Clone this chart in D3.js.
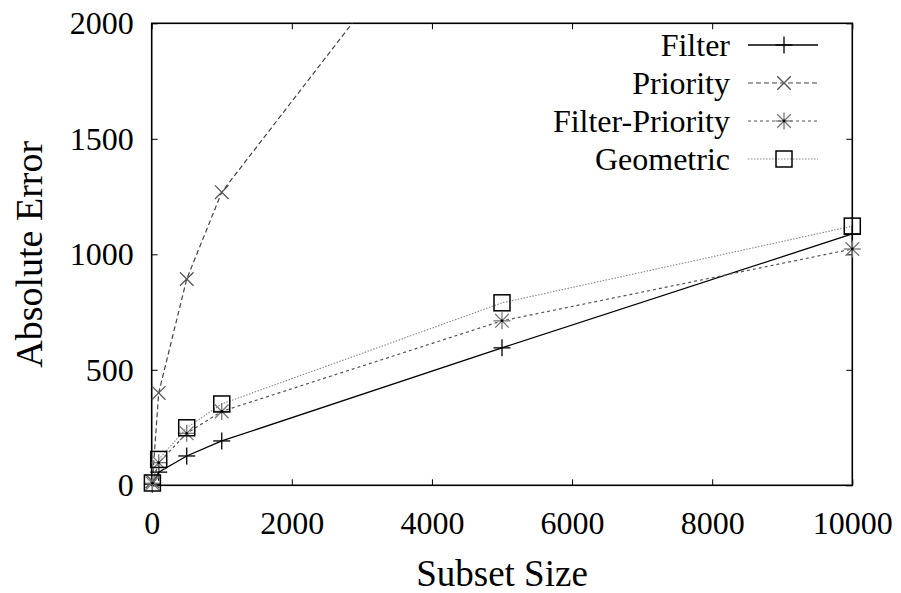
<!DOCTYPE html>
<html>
<head>
<meta charset="utf-8">
<script src="https://cdn.jsdelivr.net/npm/d3@7/dist/d3.min.js"></script>
<style>
  html, body { margin: 0; padding: 0; background: #fff; }
  svg { display: block; }
</style>
</head>
<body>
<svg id="chart" width="901" height="593"></svg>
<script>
// Subset sizes on the x axis
const subsetSizes = [10, 100, 500, 1000, 5000, 10000];

// Absolute error per method
const filterErr         = [5, 57, 127, 192, 595, 1088];
const priorityErr       = [18, 400, 893, 1269, 2840, 4900];
const filterPriorityErr = [9, 98, 225, 320, 712, 1023];
const geometricErr      = [10, 112, 249, 352, 790, 1122];

const seriesNames = ["Filter", "Priority", "Filter-Priority", "Geometric"];

const xTicks = [0, 2000, 4000, 6000, 8000, 10000];
const yTicks = [0, 500, 1000, 1500, 2000];

const xTitle = "Subset Size";
const yTitle = "Absolute Error";

const serif = "'Liberation Serif', 'Times New Roman', Times, serif";

const series = [
  { name: seriesNames[0], values: filterErr,         marker: "plus",     stroke: "#000", dash: null,      width: 1.3, markColor: "#000" },
  { name: seriesNames[1], values: priorityErr,       marker: "cross",    stroke: "#444", dash: "5,3",     width: 1.2, markColor: "#555" },
  { name: seriesNames[2], values: filterPriorityErr, marker: "asterisk", stroke: "#555", dash: "3,3",     width: 1.2, markColor: "#777" },
  { name: seriesNames[3], values: geometricErr,      marker: "square",   stroke: "#888", dash: "1.5,1.5", width: 1.1, markColor: "#000" }
];

const svg = d3.select("#chart");
const plotLeft = 151.7, plotRight = 852.3, plotTop = 23.3, plotBottom = 485.3;

const x = d3.scaleLinear().domain([0, 10000]).range([plotLeft, plotRight]);
const y = d3.scaleLinear().domain([0, 2000]).range([plotBottom, plotTop]);

svg.append("defs").append("clipPath").attr("id", "plotClip")
  .append("rect").attr("x", plotLeft).attr("y", plotTop)
  .attr("width", plotRight - plotLeft).attr("height", plotBottom - plotTop);

// Axes with inward ticks, mirrored on top and right
const tickLen = 6;
function styleAxis(g) {
  g.attr("font-family", null).attr("font-size", null);
  g.select(".domain").remove();
  g.selectAll(".tick line").attr("stroke", "#000").attr("stroke-width", 1);
  g.selectAll(".tick text")
    .style("font-family", serif)
    .style("font-size", "32px")
    .attr("fill", "#000");
}

svg.append("g").attr("transform", `translate(0,${plotBottom})`)
  .call(d3.axisBottom(x).tickValues(xTicks).tickFormat(d3.format("d"))
    .tickSizeInner(-tickLen).tickSizeOuter(0).tickPadding(26))
  .call(styleAxis);
svg.append("g").attr("transform", `translate(0,${plotTop})`)
  .call(d3.axisTop(x).tickValues(xTicks).tickFormat("")
    .tickSizeInner(-tickLen).tickSizeOuter(0))
  .call(styleAxis);
svg.append("g").attr("transform", `translate(${plotLeft},0)`)
  .call(d3.axisLeft(y).tickValues(yTicks).tickFormat(d3.format("d"))
    .tickSizeInner(-tickLen).tickSizeOuter(0).tickPadding(18))
  .call(styleAxis);
svg.append("g").attr("transform", `translate(${plotRight},0)`)
  .call(d3.axisRight(y).tickValues(yTicks).tickFormat("")
    .tickSizeInner(-tickLen).tickSizeOuter(0))
  .call(styleAxis);

// Plot border
svg.append("rect")
  .attr("x", plotLeft).attr("y", plotTop)
  .attr("width", plotRight - plotLeft).attr("height", plotBottom - plotTop)
  .attr("fill", "none").attr("stroke", "#000").attr("stroke-width", 1.6);

// Axis titles
svg.append("text")
  .attr("x", (plotLeft + plotRight) / 2).attr("y", 586)
  .attr("text-anchor", "middle")
  .style("font-family", serif)
  .style("font-size", "37px")
  .text(xTitle);
svg.append("text")
  .attr("transform", `translate(42,${(plotTop + plotBottom) / 2}) rotate(-90)`)
  .attr("text-anchor", "middle")
  .style("font-family", serif)
  .style("font-size", "38px")
  .text(yTitle);

// Marker drawing
function drawMarker(g, type, cx, cy, color) {
  const r = 8.5;
  const m = g.append("g").attr("transform", `translate(${cx},${cy})`)
    .attr("stroke", color).attr("stroke-width", 1.3).attr("fill", "none");
  if (type === "plus" || type === "asterisk") {
    m.append("line").attr("x1", -r).attr("x2", r).attr("y1", 0).attr("y2", 0);
    m.append("line").attr("x1", 0).attr("x2", 0).attr("y1", -r).attr("y2", r);
  }
  if (type === "cross" || type === "asterisk") {
    const d = r * 0.8;
    m.append("line").attr("x1", -d).attr("x2", d).attr("y1", -d).attr("y2", d);
    m.append("line").attr("x1", -d).attr("x2", d).attr("y1", d).attr("y2", -d);
  }
  if (type === "asterisk") {
    m.append("circle").attr("r", 1.4).attr("fill", "#000").attr("stroke", "none");
  }
  if (type === "square") {
    const s = 8;
    m.append("rect").attr("x", -s).attr("y", -s).attr("width", 2 * s).attr("height", 2 * s)
      .attr("stroke-width", 1.5);
  }
}

const line = d3.line().x(d => x(d[0])).y(d => y(d[1]));

const linesG = svg.append("g").attr("clip-path", "url(#plotClip)");
const marksG = svg.append("g");

series.forEach(s => {
  const pts = subsetSizes.map((sz, i) => [sz, s.values[i]]);
  linesG.append("path")
    .datum(pts)
    .attr("d", line)
    .attr("fill", "none")
    .attr("stroke", s.stroke)
    .attr("stroke-width", s.width)
    .attr("stroke-dasharray", s.dash);
  pts.filter(p => p[1] <= y.domain()[1]).forEach(p => {
    drawMarker(marksG, s.marker, x(p[0]), y(p[1]), s.markColor);
  });
});

// Legend
const legendTextX = 730, legendLineX1 = 748, legendLineX2 = 818, legendY0 = 45, legendStep = 38;
const legend = svg.append("g");
series.forEach((s, i) => {
  const ly = legendY0 + i * legendStep;
  legend.append("text")
    .attr("x", legendTextX).attr("y", ly)
    .attr("dy", "0.35em")
    .attr("text-anchor", "end")
    .style("font-family", serif)
    .style("font-size", "32px")
    .text(s.name);
  legend.append("line")
    .attr("x1", legendLineX1).attr("x2", legendLineX2)
    .attr("y1", ly).attr("y2", ly)
    .attr("stroke", s.stroke)
    .attr("stroke-width", s.width)
    .attr("stroke-dasharray", s.dash);
  drawMarker(legend, s.marker, (legendLineX1 + legendLineX2) / 2 + 1, ly, s.markColor);
});
</script>
</body>
</html>
